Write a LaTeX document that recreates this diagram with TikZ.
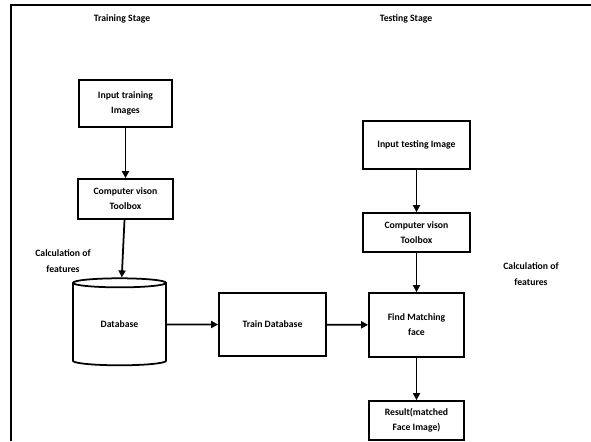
\documentclass[tikz,border=0pt]{standalone}
\usepackage{fontspec}
\setmainfont{Carlito}
\usetikzlibrary{shapes.geometric,arrows.meta}

\begin{document}
\begin{tikzpicture}[x=0.03cm,y=-0.03cm,line width=1.5pt,font=\fontsize{8.3}{13}\selectfont\bfseries]
            \tikzset{stepbox/.style 2 args={draw, align=center, inner sep=0pt, minimum width=#1*0.03cm, minimum height=#2*0.03cm}};
            \tikzset{flow/.style={-{Triangle[length=6pt,width=6pt]}}};
            \useasboundingbox (0,0) rectangle (591,441);
            \draw[line width=1.6pt] (11,441)--(11,5)--(591,5);
            
            \node (train) at (122,19) {Training Stage};
            \node (test) at (406,19) {Testing Stage};
            
            \node[stepbox={93}{47}] (in1) at (125.5,103.5) {Input training\\Images};
            \node[stepbox={95}{40}] (cv1) at (125.5,199) {Computer vison\\Toolbox};
            \node[draw, cylinder, shape border rotate=90, aspect=0.24, minimum width=93*0.03cm, minimum height=87*0.03cm, inner sep=0pt] (db) at (119.5,324.5) {Database};
            \node[stepbox={107}{63}] (tdb) at (272.5,324.5) {Train Database};
            
            \node[stepbox={107}{48}] (in2) at (416.5,145) {Input testing Image};
            \node[stepbox={107}{39}] (cv2) at (416.5,232.5) {Computer vison\\Toolbox};
            \node[stepbox={95}{64}] (fm) at (416.5,325) {Find Matching\\face};
            \node[stepbox={95}{39}] (res) at (416.5,420.5) {Result(matched\\Face Image)};
            
            \node (calc1) at (63,261) [align=center] {Calculation of\\features};
            \node (calc2) at (531,274) [align=center] {Calculation of\\features};
            
            \draw[flow] (in1)--(cv1);
            \draw[flow] (cv1)--(db);
            \draw[flow] (db)--(tdb);
            \draw[flow] (tdb)--(fm);
            \draw[flow] (in2)--(cv2);
            \draw[flow] (cv2)--(fm);
            \draw[flow] (fm)--(res);
        \end{tikzpicture}
\end{document}
